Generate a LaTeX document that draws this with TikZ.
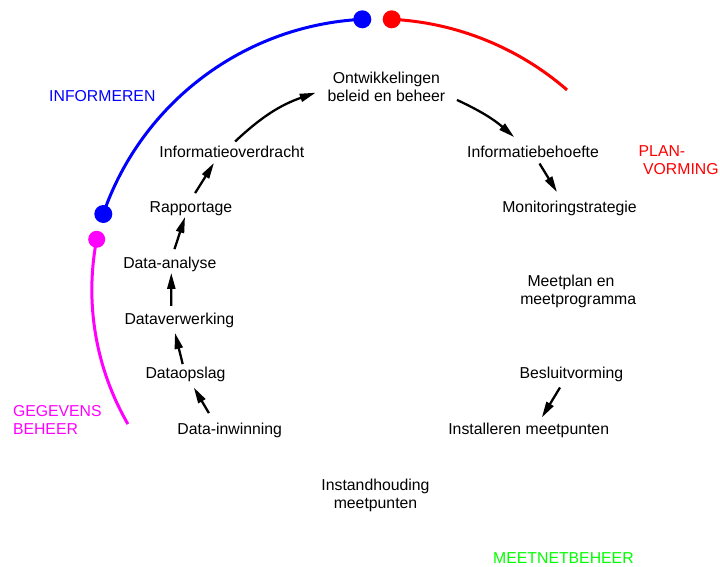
\documentclass[tikz,border=0pt]{standalone}
\usepackage{fontspec}
\setmainfont{Liberation Sans}
\usepackage{xcolor}
\usepackage{tikz}
\definecolor{infoblue}{HTML}{0000FF}
\definecolor{planred}{HTML}{FF0000}
\definecolor{datamagenta}{HTML}{FF00FF}
\definecolor{netgreen}{HTML}{00FF00}
\usetikzlibrary{arrows.meta, positioning, calc}

\begin{document}
\begin{tikzpicture}[x=1pt, y=-1pt,
  stage/.style={font=\fontsize{15.8}{17.8}\selectfont, inner sep=0pt, text height=11.5pt, text depth=3.3pt, anchor=base},
  stagetwo/.style={font=\fontsize{15.8}{17.8}\selectfont, inner sep=0pt, align=center},
  phase/.style={font=\fontsize{15.8}{18.3}\selectfont, inner sep=0pt, align=left},
  flow/.style={line width=2.3pt, -{Triangle[length=16pt,width=8pt]}},
  ring/.style={line width=3pt},
  dot/.style={circle, inner sep=0pt, minimum size=18pt}]
\useasboundingbox (0,0) rectangle (720,567);
% Draw the four phases as arcs round the cycle
\node[dot, fill=infoblue] (btop) at (362.3,19.3) {};
\node[dot, fill=infoblue] (bleft) at (103.3,214) {};
\node[dot, fill=planred] (rtop) at (391.7,19.3) {};
\node[dot, fill=datamagenta, minimum size=17pt] (mtop) at (96.7,239.3) {};
\draw[ring, infoblue] (btop.center) arc[start angle=-92.9, end angle=-160.95, radius=289.6];
\draw[ring, planred] (rtop.center) arc[start angle=-87.1, end angle=-49, radius=289.6];
\draw[ring, datamagenta] (mtop.center) arc[start angle=-169.06, end angle=-210.11, radius=267.2];
% Phase names
\node[phase, anchor=base west, text=infoblue] (inform) at (49,101.7) {INFORMEREN};
\node[phase, anchor=north west, text=planred] (plan) at (638.5,145.4) {PLAN-\\\hspace*{4.4pt}VORMING};
\node[phase, anchor=north west, text=datamagenta] (gegev) at (12.8,405) {GEGEVENS\\BEHEER};
\node[phase, anchor=base west, text=netgreen] (meetnet) at (493,563.3) {MEETNETBEHEER};
% Steps of the cycle
\node[stagetwo] (ontw) at (386.4,87.25) {Ontwikkelingen\\beleid en beheer};
\node[stage] (ovd) at (231.9,157.3) {Informatieoverdracht};
\node[stage] (rap) at (191,212.7) {Rapportage};
\node[stage] (ana) at (169.8,268.3) {Data-analyse};
\node[stage] (verw) at (179.4,324) {Dataverwerking};
\node[stage] (opsl) at (185.5,378.7) {Dataopslag};
\node[stage] (inw) at (229.7,434.3) {Data-inwinning};
\node[stage] (beh) at (533,157.3) {Informatiebehoefte};
\node[stage] (mon) at (569.5,212.7) {Monitoringstrategie};
\node[stagetwo] (meetpl) at (578.2,291.75) {Meetplan en\hspace*{14.4pt}\\meetprogramma};
\node[stage] (besl) at (571.4,378.7) {Besluitvorming};
\node[stage] (inst) at (528.7,434.3) {Installeren meetpunten};
\node[stagetwo] (instand) at (375.5,495.4) {Instandhouding\\meetpunten};
% Arrows between the steps
\draw[flow] ([shift={(-20.8,-9.5)}]inw.north) -- ([shift={(8.3,5.3)}]opsl.south);
\draw[flow] ([shift={(-2.8,-2.9)}]opsl.north) -- ([shift={(-4.4,5.4)}]verw.south);
\draw[flow] ([shift={(-8.1,-6.5)}]verw.north) -- ([shift={(1.5,1.1)}]ana.south);
\draw[flow] ([shift={(4.7,-7.5)}]ana.north) -- ([shift={(-6,0.7)}]rap.south);
\draw[flow] ([shift={(4.1,-7.9)}]rap.north) -- ([shift={(-17.9,2.1)}]ovd.south);
\draw[flow] ([shift={(3.2,-4.1)}]ovd.north) to[bend left=12] ([shift={(-11.6,5.4)}]ontw.west);
\draw[flow] ([shift={(11.5,12.7)}]ontw.east) to[bend left=8] ([shift={(-18.8,-8.5)}]beh.north);
\draw[flow] ([shift={(6.5,2.7)}]beh.south) -- ([shift={(-12.5,-8.9)}]mon.north);
\draw[flow] ([shift={(-11.4,5.3)}]besl.south) -- ([shift={(13.1,-5.1)}]inst.north);
\end{tikzpicture}
\end{document}
